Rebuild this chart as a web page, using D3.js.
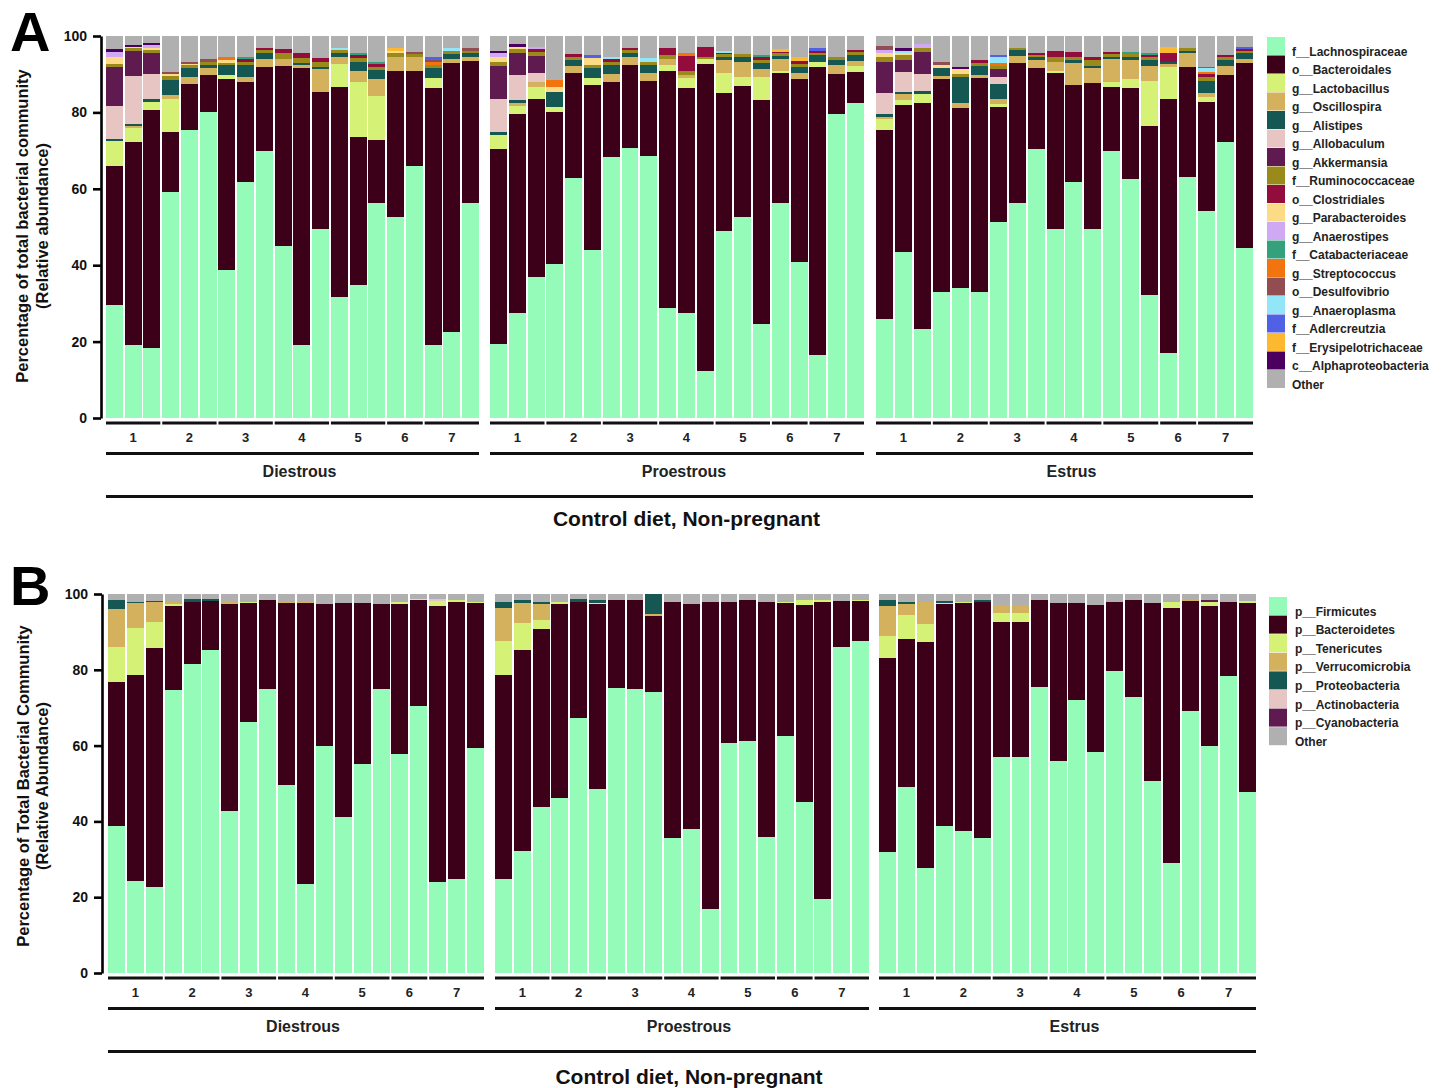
<!DOCTYPE html>
<html>
<head>
<meta charset="utf-8">
<script src="https://cdn.jsdelivr.net/npm/d3@7"></script>
<style>
  body { margin: 0; background: #fff; }
  svg text { font-family: "Liberation Sans", Arial, sans-serif; font-weight: bold; }
</style>
</head>
<body>
<svg id="chart" width="1445" height="1088"></svg>
<script>
// ---- shared categories ----
const stages = ['Diestrous', 'Proestrous', 'Estrus'];
const mice = ['1', '2', '3', '4', '5', '6', '7'];
const samplesPerMouse = [3, 3, 3, 3, 3, 2, 3];
const yTicks = [0, 20, 40, 60, 80, 100];
const groupTitle = 'Control diet, Non-pregnant';

// ---- panel A: taxa (bottom -> top of each bar) ----
const taxaA = ['f__Lachnospiraceae', 'o__Bacteroidales', 'g__Lactobacillus', 'g__Oscillospira', 'g__Alistipes',
  'g__Allobaculum', 'g__Akkermansia', 'f__Ruminococcaceae', 'o__Clostridiales', 'g__Parabacteroides',
  'g__Anaerostipes', 'f__Catabacteriaceae', 'g__Streptococcus', 'o__Desulfovibrio', 'g__Anaeroplasma',
  'f__Adlercreutzia', 'f__Erysipelotrichaceae', 'c__Alphaproteobacteria', 'Other'];
const colorsA = ['#94fcb8', '#3d0019', '#d5f277', '#d4b15c', '#155752', '#e6c5c2', '#5f1b50', '#9a8a1c',
  '#920c3c', '#fbdb86', '#d0a9f5', '#34a07c', '#f2740e', '#914d52', '#93e6f8', '#5061e6', '#fcb92f',
  '#4b0060', '#b0b0b0'];

// each array: 20 Diestrous samples, 20 Proestrous, 20 Estrus (%)
const lachnospiraceae = [
  29.6, 19, 18.2, 59.2, 75.4, 80, 38.7, 61.9, 70, 45, 19.1, 49.4, 31.7, 34.8, 56.2, 52.5, 66, 19.1, 22.6, 56.2,
  19.5, 27.4, 37, 40.2, 62.7, 44.1, 68.4, 70.8, 68.6, 28.9, 27.6, 12.4, 48.9, 52.5, 24.6, 56.2, 40.9, 16.5, 79.7, 82.5,
  26, 43.5, 23.4, 33.1, 34, 33.1, 51.4, 56.2, 70.3, 49.5, 61.9, 49.6, 70, 62.5, 32.2, 17, 63.2, 54.1, 72.3, 44.4];
const bacteroidales = [
  36.4, 53.2, 62.4, 15.7, 12.0, 9.8, 50.0, 26.0, 22, 47.1, 72.4, 35.9, 54.9, 38.7, 16.6, 38.4, 24.9, 67.2, 70.4, 37.3,
  51, 52.1, 46.4, 40.0, 27.7, 43.1, 19.6, 21.6, 19.7, 62, 58.7, 80.3, 36.1, 34.4, 58.6, 34, 47.9, 75.5, 10.3, 8.2,
  49.4, 38.4, 59.1, 55.6, 47.1, 55.8, 29.9, 36.8, 21.2, 40.7, 25.2, 38.0, 16.7, 23.8, 44.3, 66.4, 28.8, 28.7, 17.5, 48.6];
const lactobacillus = [
  6.6, 3.6, 2.2, 8.5, 0, 0, 1.1, 0, 0, 0, 0, 0, 6.2, 14.5, 11.5, 0, 0, 2.6, 0, 0,
  3.6, 2.2, 3.2, 1.3, 0, 1.7, 0, 0, 0, 1.4, 2.6, 1.2, 5.2, 2.3, 6.1, 0.7, 0, 1.3, 0, 1.4,
  2.8, 1.3, 2.3, 0, 0, 0, 0.9, 0, 0, 0.7, 0, 0, 1.3, 2.5, 11.8, 8.4, 0, 1.3, 0, 0];
const oscillospira = [
  0, 0.6, 0, 1.1, 1.8, 1.7, 0, 1.3, 1.9, 1.8, 0.9, 6.0, 1.6, 2.9, 4.4, 3.5, 3.5, 0, 0.9, 0.9,
  0, 0.8, 1.4, 0, 1.7, 0, 2.0, 2.2, 1.9, 1.6, 0.9, 0, 3.5, 4.1, 2.0, 3, 1.6, 0, 2.4, 1.4,
  0.7, 1.6, 0, 0.8, 1.4, 0.9, 1.2, 1.8, 2.2, 2.4, 5.9, 3.9, 5.9, 4.9, 3.8, 0.9, 3.6, 1.1, 2.4, 1.1];
const alistipes = [
  0.5, 0.6, 0.6, 4.0, 2.3, 0.9, 2.6, 3.1, 1.7, 0, 0.6, 0.7, 1.1, 2.4, 2.4, 0, 0, 2.6, 1.4, 1.1,
  0.8, 0.7, 0, 3.9, 1.6, 2.6, 2.4, 1.0, 2.2, 0, 0, 0, 0.9, 1.3, 1.7, 0.9, 1.6, 1.7, 1.3, 1.5,
  0.7, 0.6, 0.9, 2.0, 6.7, 2.3, 4.0, 1.5, 0.7, 0, 0.7, 0.6, 0.7, 0.9, 1.6, 0.6, 0.6, 3.1, 1.5, 1.4];
const allobaculum = [
  8.7, 12.4, 6.6, 0, 0, 0, 0, 0, 0, 0, 0, 0, 0, 0, 0, 0, 0, 0, 0, 0,
  8.5, 6.6, 2.4, 0, 0, 0, 0, 0, 0, 0, 0, 0, 0, 0, 0, 0, 0, 0, 0, 0,
  5.6, 5.3, 4.3, 0, 0, 0, 1.8, 0, 0, 0, 0, 0, 0, 0, 0, 0, 0, 0, 0, 0];
const akkermansia = [
  10.2, 6.8, 5.6, 0, 0, 0, 0, 0, 0, 0, 0, 0, 0, 0, 0, 0, 0, 0, 0, 0,
  8.7, 5.8, 4.4, 0, 0, 0, 0, 0, 0, 0, 0, 0, 0, 0, 0, 0, 0, 0, 0, 0,
  8.1, 3.0, 5.9, 0, 0, 0, 2.1, 0, 0, 0, 0, 0, 0, 0, 0, 0, 0, 0, 0, 0];
const ruminococcaceae = [
  0.8, 0.6, 0.7, 1.0, 0.8, 0.9, 0.6, 0.9, 0.7, 1.6, 1.2, 1.3, 0.8, 0.9, 0.9, 1.1, 0.9, 0.9, 0.9, 0.7,
  1.2, 0.9, 1.1, 0, 0.9, 0.9, 0.9, 0.7, 0.9, 1.1, 1.1, 0.7, 0.7, 0.7, 0.7, 0.7, 0.8, 0.6, 0.9, 0.9,
  1.1, 1.3, 0.9, 0, 0.8, 0.9, 0.8, 0.6, 0.6, 1.1, 0.9, 1.6, 0.7, 0.7, 0.7, 0, 0.6, 1.0, 0.9, 0.7];
const clostridiales = [
  0, 0, 0, 0, 0, 0, 0, 0.7, 0.5, 1.0, 1.4, 0.9, 0, 0.8, 0.7, 0, 0, 0, 0, 0,
  0, 0, 0.7, 0, 0.7, 0, 0.6, 0.5, 0, 1.8, 3.9, 2.6, 0.3, 0, 0.7, 0.4, 0.7, 0.6, 0, 0.4,
  0, 0, 0, 0, 0, 0.7, 0, 0, 0.6, 1.8, 1.1, 0.7, 0.6, 0, 0.6, 2.3, 0, 0.7, 0.4, 0.5];
const parabacteroides = [
  1.6, 0.4, 0.6, 0.5, 0.5, 0, 0.7, 0, 0, 0, 0, 0, 0, 0, 0, 0.5, 0, 0, 0, 0,
  1.3, 0.7, 0, 1.3, 0, 1.8, 0, 0, 0, 0, 0, 0, 0, 0, 0, 0, 0, 0, 0, 0,
  1.2, 0.6, 0, 0.9, 1.3, 0, 0, 0, 0, 0, 0, 0, 0, 0, 0, 0, 0, 0, 0, 0];
const anaerostipes = [
  1.5, 0, 0.7, 0, 0, 0, 0, 0, 0, 0, 0, 0, 0, 0, 0, 0, 0, 0, 0, 0,
  0.9, 0, 0.6, 0, 0, 0, 0, 0, 0, 0, 0, 0, 0, 0, 0, 0, 0, 0, 0, 0,
  0.7, 0, 1.1, 0, 0, 0, 0, 0, 0, 0, 0, 0, 0, 0, 0, 0, 0, 0, 0, 0];
const catabacteriaceae = [
  0, 0, 0, 0, 0, 0, 0, 0.5, 0, 0, 0, 0, 0, 0.5, 0.5, 0, 0, 0, 0, 0,
  0, 0, 0, 0, 0, 0, 0, 0, 0, 0, 0, 0, 0, 0, 0.6, 0, 0, 0, 0, 0,
  0, 0, 0, 0, 0, 0, 0, 0, 0, 0, 0, 0, 0, 0.6, 0.6, 0, 0, 0, 0, 0];
const streptococcus = [
  0, 0, 0, 0, 0, 0, 0.9, 0, 0, 0, 0, 0, 0, 0, 0, 0, 0, 0.7, 0, 0,
  0, 0, 0, 1.8, 0, 0, 0, 0, 0, 0, 0.8, 0, 0, 0, 0, 0, 0, 0, 0, 0,
  0, 0, 0, 0, 0, 0, 0.9, 0, 0, 0, 0, 0, 0, 0, 0, 0, 0, 0.7, 0, 0];
const desulfovibrio = [
  0, 0, 0, 0.6, 0.5, 0.6, 0, 0, 0, 0, 0, 0, 0, 0, 0, 0, 0.6, 0.6, 0, 0.6,
  0, 0, 0, 0, 0, 0, 0, 0, 0, 0, 0, 0, 0, 0, 0, 0, 0, 0, 0, 0,
  1.1, 0, 0, 0.8, 0, 0, 0, 0, 0, 0, 0, 0, 0, 0, 0, 0, 0, 0, 0, 0];
const anaeroplasma = [
  0, 0, 0, 0, 0, 0, 0, 0, 0, 0, 0, 0, 0.6, 0, 0, 0, 0, 0, 0.6, 0,
  0, 0, 0, 0, 0, 0, 0.5, 0, 0.9, 0, 0, 0, 0.6, 0, 0, 0, 0, 0, 0, 0,
  0, 0.6, 0, 0, 0, 0, 1.4, 0, 0, 0, 0, 0, 0, 0, 0, 0, 0, 0.8, 0, 0];
const adlercreutzia = [
  0, 0, 0, 0, 0, 0, 0, 0, 0, 0, 0, 0, 0, 0, 0, 0, 0, 0.7, 0, 0,
  0, 0, 0, 0, 0, 0.8, 0, 0, 0, 0, 0, 0, 0, 0, 0, 0, 0, 0.6, 0, 0,
  0, 0, 0, 0, 0, 0, 0.5, 0, 0, 0, 0, 0, 0, 0, 0, 0, 0, 0.5, 0, 0.5];
const erysipelotrichaceae = [
  0, 0, 0, 0, 0, 0, 0, 0, 0, 0, 0, 0, 0, 0, 0, 0.8, 0, 0, 0, 0,
  0, 0, 0, 0, 0, 0, 0, 0, 0, 0, 0, 0, 0, 0, 0, 0.6, 0.9, 0, 0, 0,
  0, 0, 0, 0, 0, 0, 0, 0, 0, 0, 0, 0, 0, 0, 0, 1.6, 0, 0, 0, 0];
const alphaproteobacteria = [
  0.7, 0.5, 0.5, 0, 0, 0, 0, 0, 0, 0, 0, 0, 0, 0, 0, 0, 0, 0, 0, 0,
  0.6, 0.7, 0, 0, 0, 0, 0, 0, 0, 0, 0, 0, 0, 0, 0, 0, 0, 0, 0, 0,
  0, 0.6, 0, 0, 0.5, 0, 0, 0, 0, 0, 0, 0, 0, 0, 0, 0, 0, 0, 0, 0];
const otherA = [
  3.4, 2.3, 1.9, 9.4, 6.7, 6.1, 5.4, 5.6, 3.2, 3.5, 4.4, 5.8, 3.1, 4.5, 6.8, 3.2, 4.1, 5.6, 3.2, 3.2,
  3.9, 2.1, 2.8, 11.5, 4.7, 5.0, 5.6, 3.2, 5.8, 3.2, 4.4, 2.8, 3.8, 4.7, 5.0, 3.5, 5.6, 3.2, 5.4, 3.7,
  2.6, 3.2, 2.1, 6.8, 8.2, 6.3, 5.1, 3.1, 4.4, 3.8, 4.3, 5.6, 4.1, 4.1, 4.4, 2.8, 3.2, 8.0, 5.0, 2.8];

// ---- panel B: phyla ----
const taxaB = ['p__Firmicutes', 'p__Bacteroidetes', 'p__Tenericutes', 'p__Verrucomicrobia',
  'p__Proteobacteria', 'p__Actinobacteria', 'p__Cyanobacteria', 'Other'];
const colorsB = ['#94fcb8', '#3d0019', '#d5f277', '#d4b15c', '#155752', '#e6c5c2', '#5f1b50', '#b0b0b0'];

const firmicutes = [
  38.8, 24.3, 22.7, 74.7, 81.5, 85.2, 42.8, 66.3, 74.9, 49.5, 23.5, 59.9, 41.1, 55.1, 74.9, 57.7, 70.5, 23.9, 24.7, 59.3,
  24.8, 32.3, 43.7, 46.1, 67.2, 48.5, 75.1, 74.9, 74.2, 35.5, 37.9, 17.0, 60.8, 61.3, 35.8, 62.5, 45.2, 19.4, 85.9, 87.7,
  31.8, 49.2, 27.6, 38.8, 37.5, 35.5, 56.9, 57.1, 75.4, 55.9, 72.0, 58.4, 79.8, 72.7, 50.7, 29.1, 69.0, 59.9, 78.4, 47.8];
const bacteroidetes = [
  37.9, 54.2, 63.0, 22.2, 16.3, 13.0, 54.6, 31.3, 23.6, 48.2, 74.2, 37.5, 56.5, 42.6, 22.4, 39.7, 27.9, 73.0, 73.2, 38.4,
  53.9, 52.8, 47.0, 51.2, 30.8, 48.8, 23.3, 23.5, 20.0, 62.5, 59.4, 81.0, 37.2, 37.1, 62.2, 35.1, 51.9, 78.5, 12.3, 10.5,
  51.2, 38.9, 59.7, 58.5, 60.1, 62.3, 35.6, 35.4, 23.0, 41.7, 25.7, 38.7, 18.2, 25.6, 47.0, 67.3, 29.2, 37.0, 19.5, 49.9];
const tenericutes = [
  9.2, 12.6, 7.0, 0.5, 0, 0, 0, 0.4, 0, 0, 0, 0, 0, 0, 0, 0.4, 0.3, 1.2, 0.4, 0.3,
  8.8, 7.2, 2.5, 0.5, 0, 0.4, 0, 0, 0, 0, 0, 0, 0, 0, 0, 0.4, 1.2, 0.5, 0, 0.3,
  5.8, 6.4, 4.7, 0.4, 0.4, 0, 2.4, 2.6, 0, 0, 0, 0, 0, 0, 0, 1.5, 0, 1.0, 0, 0.4];
const verrucomicrobia = [
  10.1, 6.5, 5.1, 0.4, 0, 0, 0.4, 0, 0, 0.3, 0.3, 0, 0, 0, 0, 0, 0, 0, 0, 0,
  8.7, 5.4, 4.1, 0, 0, 0, 0, 0, 0.4, 0, 0, 0, 0, 0, 0, 0, 0, 0, 0, 0,
  8.1, 2.8, 6.0, 0, 0, 0, 2.2, 2.0, 0, 0, 0, 0, 0, 0, 0, 0, 0.3, 0, 0, 0];
const proteobacteria = [
  2.3, 0.4, 0.4, 0, 0.8, 0.5, 0, 0, 0, 0, 0, 0, 0, 0, 0, 0, 0, 0, 0, 0,
  1.8, 0.6, 0.5, 0, 0.7, 0.7, 0, 0, 5.4, 0, 0, 0, 0, 0, 0, 0, 0, 0, 0, 0,
  1.5, 0.7, 0, 0.5, 0, 0.6, 0, 0, 0, 0, 0, 0, 0, 0, 0, 0, 0, 0, 0, 0];
const actinobacteria = [
  0, 0, 0, 0, 0, 0, 0, 0, 0, 0, 0, 0, 0, 0, 0, 0, 0, 0.5, 0, 0,
  0, 0, 0, 0, 0, 0, 0, 0, 0, 0, 0, 0, 0, 0, 0, 0, 0, 0, 0, 0,
  0, 0, 0, 0, 0, 0, 0, 0, 0, 0, 0, 0, 0, 0, 0, 0, 0, 0, 0, 0];
const cyanobacteria = [
  0, 0, 0, 0, 0, 0, 0, 0, 0, 0, 0, 0, 0, 0, 0, 0, 0, 0, 0, 0,
  0, 0, 0, 0, 0, 0, 0, 0, 0, 0, 0, 0, 0, 0, 0, 0, 0, 0, 0, 0,
  0, 0, 0, 0, 0, 0, 0, 0, 0, 0, 0, 0, 0, 0, 0, 0, 0, 0.5, 0, 0];
const otherB = [
  1.7, 2.0, 1.8, 2.2, 1.4, 1.3, 2.2, 2.0, 1.5, 2.0, 2.0, 2.6, 2.4, 2.3, 2.7, 2.2, 1.3, 1.4, 1.7, 2.0,
  2.0, 1.7, 2.2, 2.2, 1.3, 1.6, 1.6, 1.6, 0, 2.0, 2.7, 2.0, 2.0, 1.6, 2.0, 2.0, 1.7, 1.6, 1.8, 1.5,
  1.6, 2.0, 2.0, 1.8, 2.0, 1.6, 2.9, 2.9, 1.6, 2.4, 2.3, 2.9, 2.0, 1.7, 2.3, 2.1, 1.5, 1.6, 2.1, 1.9];

const seriesA = [lachnospiraceae, bacteroidales, lactobacillus, oscillospira, alistipes, allobaculum,
  akkermansia, ruminococcaceae, clostridiales, parabacteroides, anaerostipes, catabacteriaceae,
  streptococcus, desulfovibrio, anaeroplasma, adlercreutzia, erysipelotrichaceae, alphaproteobacteria, otherA];
const seriesB = [firmicutes, bacteroidetes, tenericutes, verrucomicrobia, proteobacteria,
  actinobacteria, cyanobacteria, otherB];

const svg = d3.select('#chart');
const FONT = '"Liberation Sans", Arial, sans-serif';
const perStage = d3.sum(samplesPerMouse);
const mouseStart = samplesPerMouse.map((n, m) => d3.sum(samplesPerMouse.slice(0, m)));

function drawPanel(cfg) {
  const g = svg.append('g');
  const y = d3.scaleLinear().domain([0, 100]).range([cfg.bottom, cfg.top]);
  const xs = cfg.stageX.map(r => d3.scaleBand().domain(d3.range(perStage)).range(r).paddingInner(0.1));

  const rows = d3.range(stages.length * perStage).map(i => {
    const row = { stage: Math.floor(i / perStage), pos: i % perStage };
    cfg.taxa.forEach((t, k) => { row[t] = cfg.series[k][i]; });
    return row;
  });
  const stacked = d3.stack().keys(cfg.taxa)(rows);

  g.append('g').selectAll('g')
    .data(stacked)
    .join('g')
    .attr('fill', (d, k) => cfg.colors[k])
    .selectAll('rect')
    .data(d => d.filter(s => s[1] - s[0] > 0))
    .join('rect')
    .attr('shape-rendering', 'crispEdges')
    .attr('x', d => xs[d.data.stage](d.data.pos))
    .attr('width', d => xs[d.data.stage].bandwidth())
    .attr('y', d => y(d[1]))
    .attr('height', d => y(d[0]) - y(d[1]));

  // y axis
  g.append('g')
    .attr('transform', `translate(${cfg.axisX},0)`)
    .call(d3.axisLeft(y).tickValues(yTicks).tickSize(8).tickSizeOuter(0).tickPadding(6))
    .call(a => a.attr('font-family', FONT).attr('font-size', 14))
    .call(a => a.select('.domain').attr('stroke-width', 2.6))
    .call(a => a.selectAll('.tick line').attr('stroke-width', 2.6))
    .call(a => a.selectAll('.tick text').attr('font-weight', 'bold').attr('fill', '#111'));

  // y labels
  cfg.yLabel.forEach((txt, k) => {
    g.append('text')
      .attr('transform', `translate(${cfg.yLabelX[k]},${cfg.yLabelY}) rotate(-90)`)
      .attr('text-anchor', 'middle')
      .attr('font-size', 16.5)
      .attr('fill', '#111')
      .text(txt);
  });

  // panel letter
  g.append('text')
    .attr('x', 10).attr('y', cfg.letterY)
    .attr('font-size', 56)
    .text(cfg.letter);

  const b = cfg.bottom;
  // mouse brackets and labels
  stages.forEach((s, si) => {
    const x = xs[si];
    const bw = x.bandwidth();
    mice.forEach((m, mi) => {
      const x1 = x(mouseStart[mi]);
      const x2 = x(mouseStart[mi] + samplesPerMouse[mi] - 1) + bw;
      g.append('line')
        .attr('x1', x1).attr('x2', x2)
        .attr('y1', b + 5).attr('y2', b + 5)
        .attr('stroke', '#111').attr('stroke-width', 3.2);
      g.append('text')
        .attr('x', (x1 + x2) / 2).attr('y', b + 23.5)
        .attr('text-anchor', 'middle')
        .attr('font-size', 13)
        .attr('fill', '#222')
        .text(m);
    });
    const [s0, s1] = cfg.stageX[si];
    g.append('line')
      .attr('x1', s0).attr('x2', s1)
      .attr('y1', b + 35.5).attr('y2', b + 35.5)
      .attr('stroke', '#111').attr('stroke-width', 3.2);
    g.append('text')
      .attr('x', (s0 + s1) / 2 + 7).attr('y', b + 58.5)
      .attr('text-anchor', 'middle')
      .attr('font-size', 16)
      .attr('fill', '#222')
      .text(s);
  });

  const allX0 = cfg.stageX[0][0], allX1 = cfg.stageX[2][1];
  g.append('line')
    .attr('x1', allX0).attr('x2', allX1)
    .attr('y1', b + 78.5).attr('y2', b + 78.5)
    .attr('stroke', '#111').attr('stroke-width', 3.2);
  g.append('text')
    .attr('x', (allX0 + allX1) / 2 + 7).attr('y', b + cfg.titleDy)
    .attr('text-anchor', 'middle')
    .attr('font-size', 21)
    .attr('fill', '#111')
    .text(groupTitle);

  // legend
  const lg = g.append('g');
  cfg.taxa.forEach((t, k) => {
    const ty = cfg.legendY + k * cfg.legendStep;
    lg.append('rect')
      .attr('x', cfg.legendX).attr('y', ty)
      .attr('width', 18).attr('height', 18)
      .attr('fill', cfg.colors[k]);
    lg.append('text')
      .attr('x', cfg.legendTextX).attr('y', ty + 18.5)
      .attr('font-size', 12)
      .attr('fill', '#222')
      .text(t);
  });
}

drawPanel({
  taxa: taxaA, colors: colorsA, series: seriesA,
  top: 36, bottom: 418, axisX: 101,
  stageX: [[106, 479], [490, 864], [876, 1253]],
  letter: 'A', letterY: 51, titleDy: 108,
  yLabel: ['Percentage of total bacterial community', '(Relative abundance)'],
  yLabelX: [28, 48], yLabelY: 226,
  legendX: 1267, legendY: 37, legendStep: 18.5, legendTextX: 1292
});

drawPanel({
  taxa: taxaB, colors: colorsB, series: seriesB,
  top: 594, bottom: 973, axisX: 102,
  stageX: [[108, 484], [495, 869], [879, 1256]],
  letter: 'B', letterY: 605, titleDy: 111,
  yLabel: ['Percentage of Total Bacterial Community', '(Relative Abundance)'],
  yLabelX: [29, 48], yLabelY: 786,
  legendX: 1269, legendY: 597, legendStep: 18.6, legendTextX: 1295
});
</script>
</body>
</html>
